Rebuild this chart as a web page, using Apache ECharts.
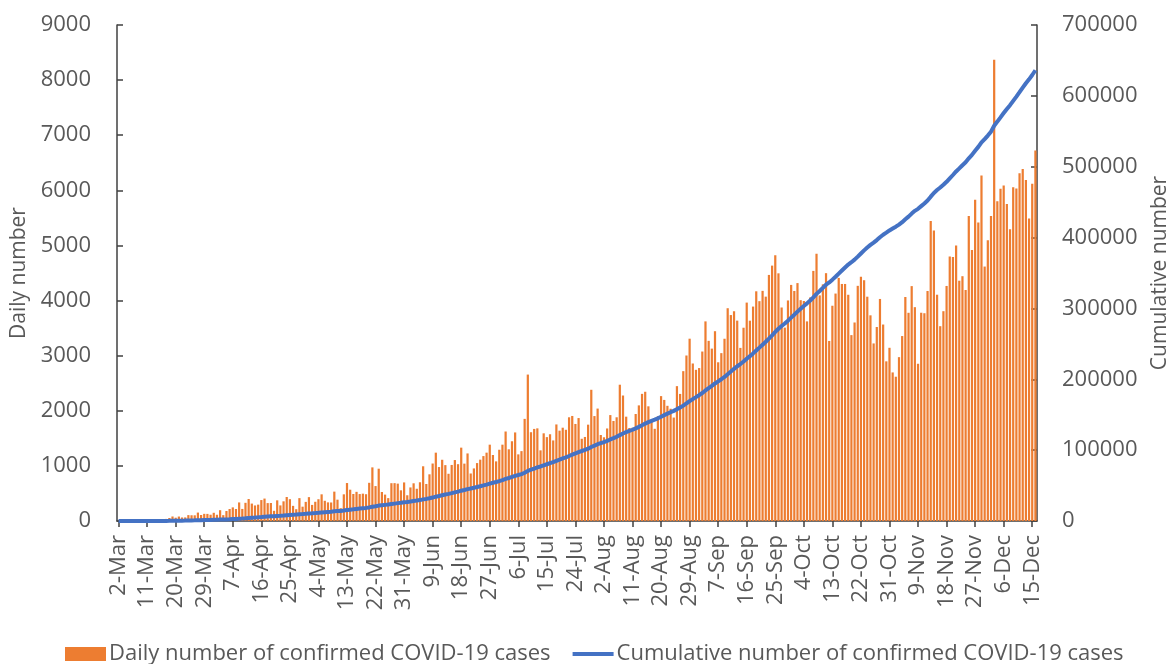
<!DOCTYPE html>
<html>
<head>
<meta charset="utf-8">
<script src="https://cdn.jsdelivr.net/npm/echarts@6/dist/echarts.min.js"></script>
<style>
html,body{margin:0;padding:0;background:#fff;}
#c{width:1175px;height:664px;}
</style>
</head>
<body>
<div id="c"></div>
<script>
// Category labels: every day from 2-Mar to 16-Dec (2020)
const monthNames = ['Jan','Feb','Mar','Apr','May','Jun','Jul','Aug','Sep','Oct','Nov','Dec'];
const categories = [];
(function(){
  const d = new Date(Date.UTC(2020, 2, 2));
  const end = new Date(Date.UTC(2020, 11, 16));
  while (d <= end) {
    categories.push(d.getUTCDate() + '-' + monthNames[d.getUTCMonth()]);
    d.setUTCDate(d.getUTCDate() + 1);
  }
})();

const seriesNames = ['Daily number of confirmed COVID-19 cases', 'Cumulative number of confirmed COVID-19 cases'];

// Daily confirmed cases
const dailyMar = [2,0,0,0,2,0,2,13,8,7,0,35,27,21,17,38,55,82,60,81,64,65,107,104,103,153,109,130,129,114];
const dailyApr = [149,113,196,106,181,218,247,218,337,219,330,399,316,282,297,380,407,325,327,185,375,283,357,436,396,275,214,415,260,347];
const dailyMay = [433,292,349,395,484,367,338,336,533,387,233,484,689,568,490,529,489,496,486,693,973,634,949,526,479,415,686,687,678,557,700];
const dailyJun = [467,609,684,585,703,993,672,847,1043,1240,979,1111,1014,857,1017,1106,1031,1331,1041,1226,862,954,1051,1113,1178,1240,1385,1198,1082,1293];
const dailyJul = [1385,1624,1301,1447,1607,1209,1268,1853,2657,1611,1671,1681,1282,1591,1522,1574,1462,1752,1639,1693,1655,1882,1906,1761,1868,1492,1525,1748,2381,1904,2040];
const dailyAug = [1560,1519,1679,1922,1815,1882,2473,2277,1893,1687,1693,1942,2098,2307,2345,2081,1821,1673,1902,2266,2197,2090,2037,1877,2447,2306,2719,3003,3308,2858,2743];
const dailySep = [2775,3075,3622,3269,3128,3444,2880,3046,3307,3861,3737,3806,3636,3141,3507,3963,3635,3891,4168,3989,4176,4071,4465,4634,4823,4494,3874,3509,4002,4284];
const dailyOct = [4174,4317,4007,3992,3622,4056,4538,4850,4094,4294,4497,3267,3906,4127,4411,4301,4301,4105,3373,3602,4267,4432,4369,4070,3732,3222,3520,4029,3565,2897,3143];
const dailyNov = [2696,2618,2973,3356,4065,3778,4262,3880,2853,3779,3770,4173,5444,5272,4106,3535,3807,4265,4798,4792,4998,4360,4442,4192,5534,4917,5828,5418,6267,4617];
const dailyDec = [5092,5533,8369,5803,6027,6089,5754,5292,6058,6033,6310,6388,6189,5489,6120,6725];

// Cumulative confirmed cases
const cumMar = [2,2,2,2,4,4,6,19,27,34,34,69,96,117,134,172,227,309,369,450,514,579,686,790,893,1046,1155,1285,1414,1528];
const cumApr = [1677,1790,1986,2092,2273,2491,2738,2956,3293,3512,3842,4241,4557,4839,5136,5516,5923,6248,6575,6760,7135,7418,7775,8211,8607,8882,9096,9511,9771,10118];
const cumMay = [10551,10843,11192,11587,12071,12438,12776,13112,13645,14032,14265,14749,15438,16006,16496,17025,17514,18010,18496,19189,20162,20796,21745,22271,22750,23165,23851,24538,25216,25773,26473];
const cumJun = [26940,27549,28233,28818,29521,30514,31186,32033,33076,34316,35295,36406,37420,38277,39294,40400,41431,42762,43803,45029,45891,46845,47896,49009,50187,51427,52812,54010,55092,56385];
const cumJul = [57770,59394,60695,62142,63749,64958,66226,68079,70736,72347,74018,75699,76981,78572,80094,81668,83130,84882,86521,88214,89869,91751,93657,95418,97286,98778,100303,102051,104432,106336,108376];
const cumAug = [109936,111455,113134,115056,116871,118753,121226,123503,125396,127083,128776,130718,132816,135123,137468,139549,141370,143043,144945,147211,149408,151498,153535,155412,157859,160165,162884,165887,169195,172053,174796];
const cumSep = [177571,180646,184268,187537,190665,194109,196989,200035,203342,207203,210940,214746,218382,221523,225030,228993,232628,236519,240687,244676,248852,252923,257388,262022,266845,271339,275213,278722,282724,287008];
const cumOct = [291182,295499,299506,303498,307120,311176,315714,320564,324658,328952,333449,336716,340622,344749,349160,353461,357762,361867,365240,368842,373109,377541,381910,385980,389712,392934,396454,400483,404048,406945,410088];
const cumNov = [412784,415402,418375,421731,425796,429574,433836,437716,440569,444348,448118,452291,457735,463007,467113,470648,474455,478720,483518,488310,493308,497668,502110,506302,511836,516753,522581,527999,534266,538883];
const cumDec = [543975,549508,557877,563680,569707,575796,581550,586842,592900,598933,605243,611631,617820,623309,629429,636154];

const dailyValues = [].concat(dailyMar, dailyApr, dailyMay, dailyJun, dailyJul, dailyAug, dailySep, dailyOct, dailyNov, dailyDec);
const cumulativeValues = [].concat(cumMar, cumApr, cumMay, cumJun, cumJul, cumAug, cumSep, cumOct, cumNov, cumDec);

const FONT = 'Open Sans';
const GREY = '#595959';
const AXIS = '#404040';
const plain = v => String(v);

const chart = echarts.init(document.getElementById('c'), null, {renderer: 'canvas'});
chart.setOption({
  animation: false,
  backgroundColor: '#ffffff',
  textStyle: {fontFamily: FONT},
  grid: {left: 117, right: 138, top: 25, bottom: 143, containLabel: false, outerBoundsMode: 'none'},
  legend: {
    left: 60,
    top: 638,
    itemWidth: 41,
    itemHeight: 14,
    itemGap: 22,
    textStyle: {fontFamily: FONT, fontSize: 22, color: GREY, padding: [0, 0, 0, -2]},
    data: [
      {name: seriesNames[0], icon: 'rect'},
      {name: seriesNames[1], icon: 'path://M0,0 L40,0 L40,4 L0,4 Z', itemStyle: {color: '#4472C4'}}
    ]
  },
  xAxis: {
    type: 'category',
    data: categories,
    boundaryGap: true,
    axisLine: {lineStyle: {color: AXIS, width: 1.5}},
    axisTick: {show: true, alignWithLabel: true, interval: 8, length: 6, lineStyle: {color: AXIS, width: 1.5}},
    axisLabel: {interval: 8, rotate: 90, margin: 14, fontSize: 22, color: GREY, fontFamily: FONT},
    splitLine: {show: false}
  },
  yAxis: [
    {
      type: 'value',
      min: 0, max: 9000, interval: 1000,
      name: 'Daily number',
      nameLocation: 'middle',
      nameGap: 86,
      nameRotate: 90,
      nameTextStyle: {fontSize: 21, color: GREY, fontFamily: FONT},
      axisLine: {show: true, lineStyle: {color: AXIS, width: 1.5}},
      axisTick: {show: true, inside: true, length: 6, lineStyle: {color: AXIS, width: 1.5}},
      axisLabel: {fontSize: 22, color: GREY, margin: 26, fontFamily: FONT, formatter: plain},
      splitLine: {show: false}
    },
    {
      type: 'value',
      min: 0, max: 700000, interval: 100000,
      name: 'Cumulative number',
      nameLocation: 'middle',
      nameGap: 113,
      nameRotate: 90,
      nameTextStyle: {fontSize: 21, color: GREY, fontFamily: FONT},
      axisLine: {show: true, lineStyle: {color: AXIS, width: 1.5}},
      axisTick: {show: true, inside: true, length: 6, lineStyle: {color: AXIS, width: 1.5}},
      axisLabel: {fontSize: 22, color: GREY, margin: 25, fontFamily: FONT, formatter: plain},
      splitLine: {show: false}
    }
  ],
  series: [
    {
      name: seriesNames[0],
      type: 'bar',
      data: dailyValues,
      yAxisIndex: 0,
      barCategoryGap: '30%',
      itemStyle: {color: '#ED7D31'},
      z: 2
    },
    {
      name: seriesNames[1],
      type: 'line',
      data: cumulativeValues,
      yAxisIndex: 1,
      symbol: 'none',
      showSymbol: false,
      lineStyle: {color: '#4472C4', width: 4},
      itemStyle: {color: '#4472C4'},
      z: 3
    }
  ]
});
</script>
</body>
</html>
